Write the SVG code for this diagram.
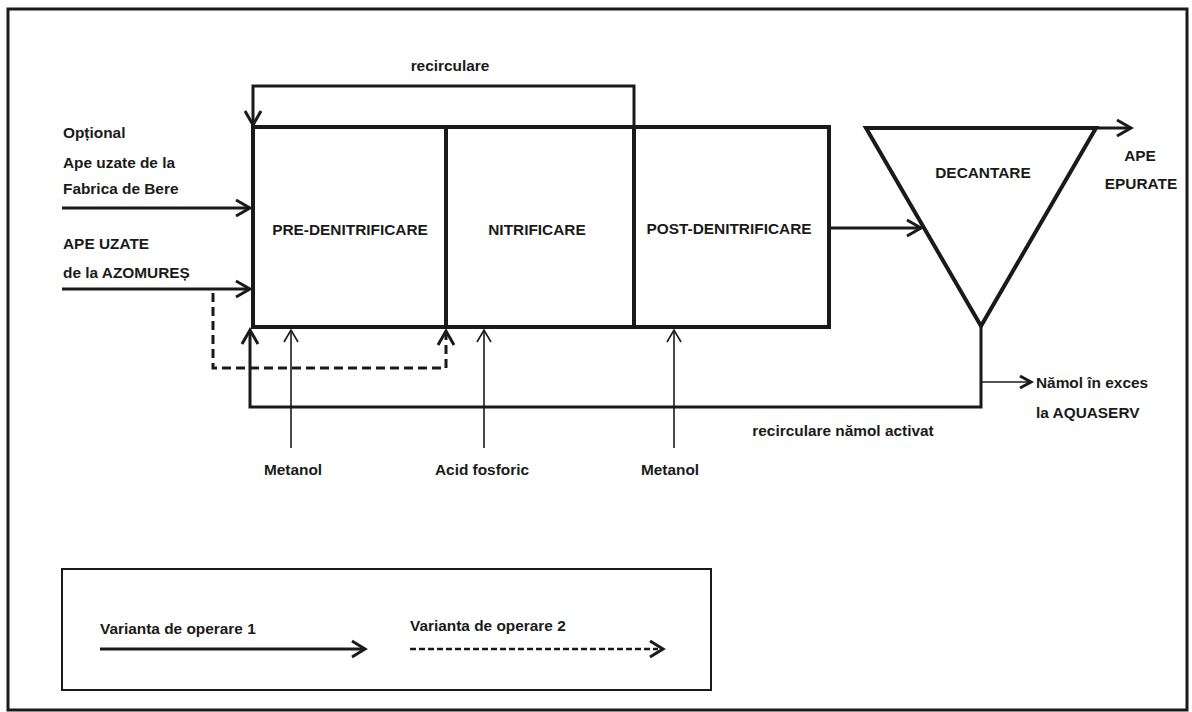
<svg xmlns="http://www.w3.org/2000/svg" width="1192" height="712" viewBox="0 0 1192 712">
<style>
text{font-family:"Liberation Sans",Arial,sans-serif;font-weight:bold;font-size:15.4px;fill:#1a1a1a}
.c{text-anchor:middle}
.thick{fill:none;stroke:#1a1a1a;stroke-width:4}
.med{fill:none;stroke:#1a1a1a;stroke-width:3}
.thin{fill:none;stroke:#1a1a1a;stroke-width:1.6}
.dash{fill:none;stroke:#1a1a1a;stroke-width:3;stroke-dasharray:9 5}
.head{fill:none;stroke:#1a1a1a;stroke-width:3;stroke-linejoin:miter}
.headt{fill:none;stroke:#1a1a1a;stroke-width:1.6}
</style>
<rect width="1192" height="712" fill="#fff"/>
<rect x="8" y="9" width="1179" height="701" fill="none" stroke="#1a1a1a" stroke-width="3"/>

<g id="pre-denitrificare">
<rect x="253" y="127" width="193" height="200" class="thick"/>
<text x="350" y="235" class="c">PRE-DENITRIFICARE</text>
</g>
<g id="nitrificare">
<rect x="446" y="127" width="188" height="200" class="thick"/>
<text x="537" y="235" class="c">NITRIFICARE</text>
</g>
<g id="post-denitrificare">
<rect x="634" y="127" width="195" height="200" class="thick"/>
<text x="729" y="234" class="c">POST-DENITRIFICARE</text>
</g>
<g id="decantare">
<polygon points="866,128 1096,128 981,326" class="thick"/>
<text x="983" y="178" class="c">DECANTARE</text>
</g>

<g id="connectors">
<polyline points="634,127 634,86 253,86 253,123" class="med"/>
<polyline points="245,111 253,125 261,111" class="head"/>
<line x1="62" y1="208" x2="250" y2="208" class="med"/>
<polyline points="236,200 250,208 236,216" class="head"/>
<line x1="62" y1="289" x2="250" y2="289" class="med"/>
<polyline points="236,281 250,289 236,297" class="head"/>
<polyline points="213,293 213,368 446,368 446,333" class="dash"/>
<polyline points="438,345 446,331 454,345" class="head"/>
<line x1="829" y1="228" x2="921" y2="228" class="med"/>
<polyline points="907,220 921,228 907,236" class="head"/>
<line x1="1096" y1="128" x2="1130" y2="128" class="med"/>
<polyline points="1117,120 1131,128 1117,136" class="head"/>
<polyline points="981,326 981,407 250,407 250,331" class="med"/>
<polyline points="242,344 250,330 258,344" class="head"/>
<line x1="981" y1="382" x2="1030" y2="382" class="thin"/>
<polyline points="1020,376 1031,382 1020,388" class="head" stroke-width="2"/>
<line x1="291" y1="448" x2="291" y2="330" class="thin"/>
<polyline points="284,342 291,330 298,342" class="headt"/>
<line x1="484" y1="448" x2="484" y2="330" class="thin"/>
<polyline points="477,342 484,330 491,342" class="headt"/>
<line x1="674" y1="448" x2="674" y2="330" class="thin"/>
<polyline points="667,342 674,330 681,342" class="headt"/>
</g>

<g id="labels">
<text x="450" y="71" class="c">recirculare</text>
<text x="63" y="138">Opțional</text>
<text x="63" y="168">Ape uzate de la</text>
<text x="63" y="194">Fabrica de Bere</text>
<text x="63" y="249">APE UZATE</text>
<text x="63" y="278">de la AZOMUREȘ</text>
<text x="1140" y="161" class="c">APE</text>
<text x="1141" y="189" class="c">EPURATE</text>
<text x="1036" y="388">Nămol în exces</text>
<text x="1036" y="418">la AQUASERV</text>
<text x="843" y="436" class="c">recirculare nămol activat</text>
<text x="293" y="475" class="c">Metanol</text>
<text x="482" y="475" class="c">Acid fosforic</text>
<text x="670" y="475" class="c">Metanol</text>
</g>

<g id="legend">
<rect x="62" y="569" width="649" height="121" fill="none" stroke="#1a1a1a" stroke-width="2"/>
<text x="100" y="634">Varianta de operare 1</text>
<line x1="100" y1="649" x2="364" y2="649" class="med"/>
<polyline points="352,641 365,649 352,657" class="head"/>
<text x="410" y="631">Varianta de operare 2</text>
<line x1="410" y1="649" x2="658" y2="649" fill="none" stroke="#1a1a1a" stroke-width="2.5" stroke-dasharray="6 3"/>
<polyline points="650,641 663,649 650,657" class="head"/>
</g>
</svg>
